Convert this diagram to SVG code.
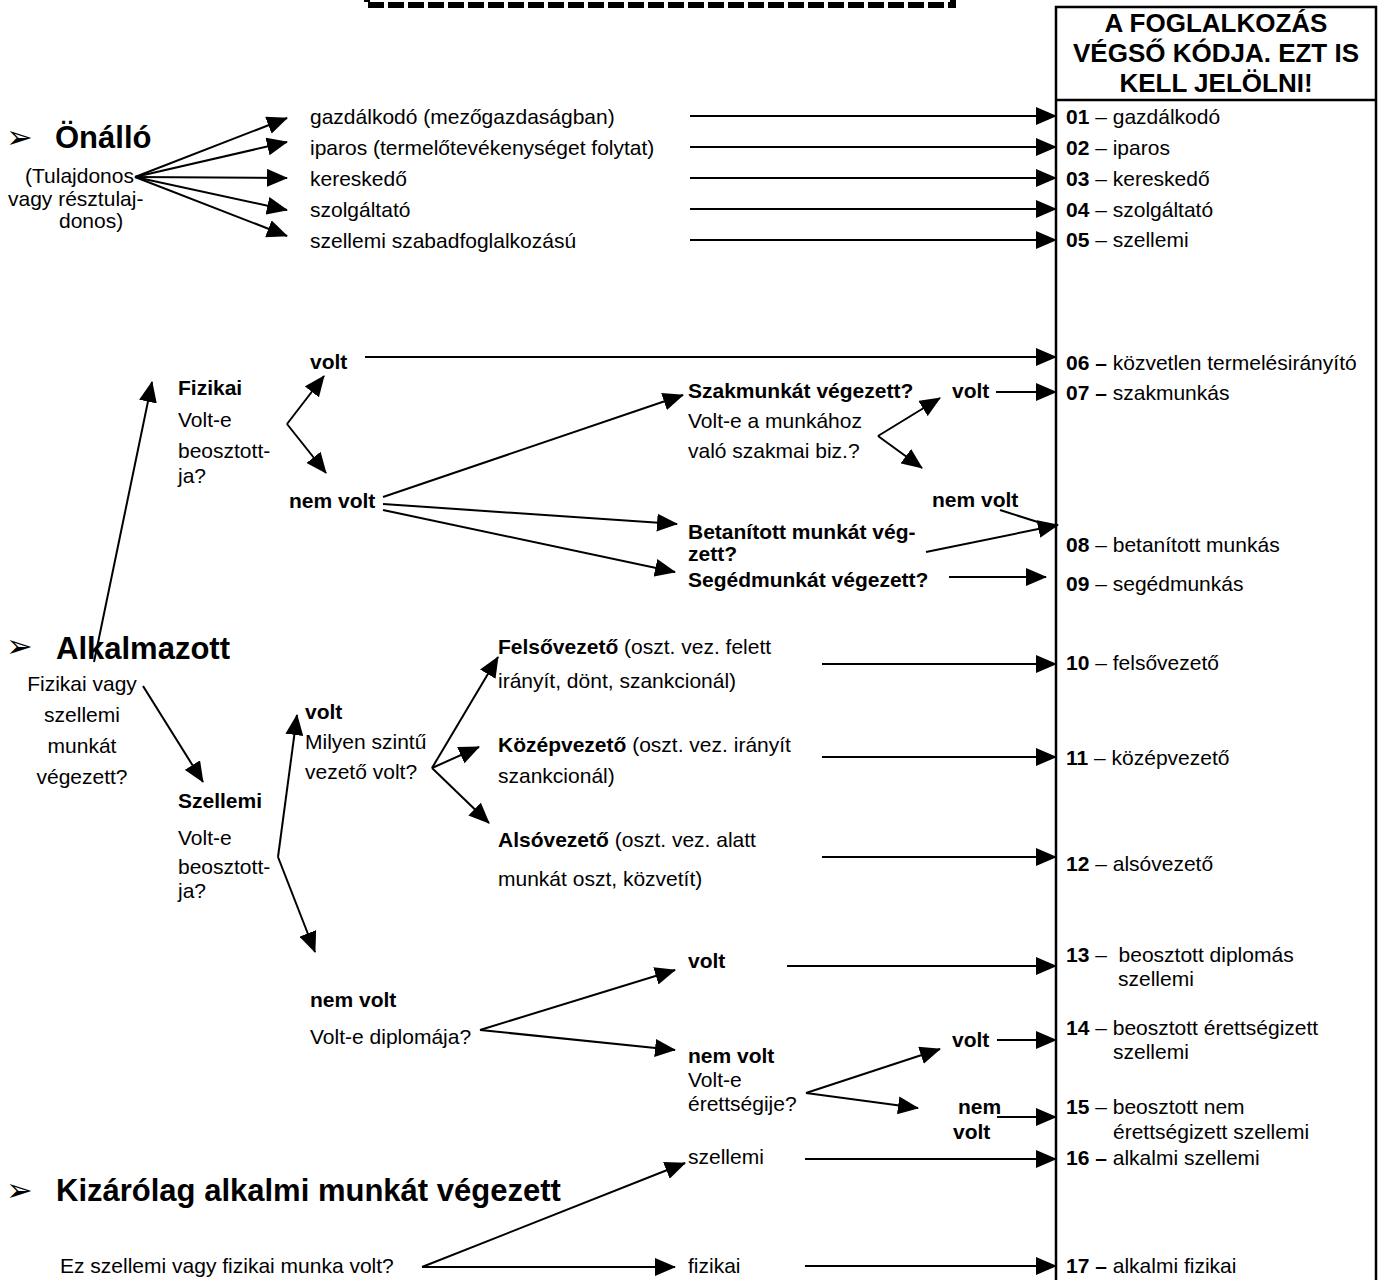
<svg xmlns="http://www.w3.org/2000/svg" width="1384" height="1280" viewBox="0 0 1384 1280">
<style>
text{font-family:"Liberation Sans",Arial,sans-serif;font-size:21px;fill:#000}
.b{font-weight:bold}
.h{font-size:31px;font-weight:bold}
.hd{font-size:26px;font-weight:bold;text-anchor:middle}
.bul{font-family:"DejaVu Sans",sans-serif;font-size:32px}
.c{text-anchor:middle}
.ln{stroke:#000;stroke-width:2;fill:none}
.ar{stroke:#000;stroke-width:2;fill:none;marker-end:url(#ah)}
</style>
<defs>
<marker id="ah" markerUnits="userSpaceOnUse" markerWidth="21" markerHeight="18" refX="20" refY="9" orient="auto">
<path d="M0,0 L21,9 L0,18 Z" fill="#000"/>
</marker>
</defs>
<rect width="1384" height="1280" fill="#fff"/>

<g id="dashed-box">
<rect x="367" y="-40" width="586" height="45" fill="none" stroke="#000" stroke-width="6" stroke-dasharray="16,4"/>
</g>

<g id="code-column">
<rect x="1056" y="7" width="320" height="1300" fill="none" stroke="#000" stroke-width="2.5"/>
<line x1="1056" y1="100" x2="1376" y2="100" stroke="#000" stroke-width="2.5"/>
<text class="hd" x="1216" y="32">A FOGLALKOZÁS</text>
<text class="hd" x="1216" y="62">VÉGSŐ KÓDJA. EZT IS</text>
<text class="hd" x="1216" y="92">KELL JELÖLNI!</text>
</g>

<g id="codes">
<text x="1066" y="124"><tspan class="b">01</tspan> – gazdálkodó</text>
<text x="1066" y="155"><tspan class="b">02</tspan> – iparos</text>
<text x="1066" y="186"><tspan class="b">03</tspan> – kereskedő</text>
<text x="1066" y="217"><tspan class="b">04</tspan> – szolgáltató</text>
<text x="1066" y="247"><tspan class="b">05</tspan> – szellemi</text>
<text x="1066" y="370"><tspan class="b">06 –</tspan> közvetlen termelésirányító</text>
<text x="1066" y="400"><tspan class="b">07 –</tspan> szakmunkás</text>
<text x="1066" y="552"><tspan class="b">08</tspan> – betanított munkás</text>
<text x="1066" y="591"><tspan class="b">09</tspan> – segédmunkás</text>
<text x="1066" y="670"><tspan class="b">10</tspan> – felsővezető</text>
<text x="1066" y="765"><tspan class="b">11</tspan> – középvezető</text>
<text x="1066" y="871"><tspan class="b">12</tspan> – alsóvezető</text>
<text x="1066" y="962"><tspan class="b">13</tspan> – &#160;beosztott diplomás</text>
<text x="1118" y="986">szellemi</text>
<text x="1066" y="1035"><tspan class="b">14</tspan> – beosztott érettségizett</text>
<text x="1113" y="1059">szellemi</text>
<text x="1066" y="1114"><tspan class="b">15</tspan> – beosztott nem</text>
<text x="1113" y="1139">érettségizett szellemi</text>
<text x="1066" y="1165"><tspan class="b">16 –</tspan> alkalmi szellemi</text>
<text x="1066" y="1273"><tspan class="b">17 –</tspan> alkalmi fizikai</text>
</g>

<g id="onallo">
<text class="bul" x="6" y="148">➢</text>
<text class="h" x="55" y="148">Önálló</text>
<text x="25" y="183">(Tulajdonos</text>
<text x="8" y="206">vagy résztulaj-</text>
<text x="59" y="228">donos)</text>
</g>

<g id="onallo-items">
<text x="310" y="124">gazdálkodó (mezőgazdaságban)</text>
<text x="310" y="155">iparos (termelőtevékenységet folytat)</text>
<text x="310" y="186">kereskedő</text>
<text x="310" y="217">szolgáltató</text>
<text x="310" y="248">szellemi szabadfoglalkozású</text>
</g>

<g id="fizikai">
<text class="b" x="178" y="395">Fizikai</text>
<text x="178" y="427">Volt-e</text>
<text x="178" y="458">beosztott-</text>
<text x="178" y="483">ja?</text>
<text class="b" x="310" y="369">volt</text>
<text class="b" x="289" y="508">nem volt</text>
</g>

<g id="szakmunka">
<text class="b" x="688" y="398">Szakmunkát végezett?</text>
<text x="688" y="428">Volt-e a munkához</text>
<text x="688" y="458">való szakmai biz.?</text>
<text class="b" x="952" y="398">volt</text>
<text class="b" x="932" y="507">nem volt</text>
</g>

<g id="betanitott">
<text class="b" x="688" y="539">Betanított munkát vég-</text>
<text class="b" x="688" y="561">zett?</text>
<text class="b" x="688" y="587">Segédmunkát végezett?</text>
</g>

<g id="alkalmazott">
<text class="bul" x="6" y="657">➢</text>
<text class="h" x="56" y="659">Alkalmazott</text>
<text class="c" x="82" y="691">Fizikai vagy</text>
<text class="c" x="82" y="722">szellemi</text>
<text class="c" x="82" y="753">munkát</text>
<text class="c" x="82" y="784">végezett?</text>
</g>

<g id="szellemi">
<text class="b" x="178" y="808">Szellemi</text>
<text x="178" y="845">Volt-e</text>
<text x="178" y="874">beosztott-</text>
<text x="178" y="898">ja?</text>
</g>

<g id="vezeto">
<text class="b" x="305" y="719">volt</text>
<text x="305" y="749">Milyen szintű</text>
<text x="305" y="779">vezető volt?</text>
</g>

<g id="vezeto-szintek">
<text x="498" y="654"><tspan class="b">Felsővezető</tspan> (oszt. vez. felett</text>
<text x="498" y="688">irányít, dönt, szankcionál)</text>
<text x="498" y="752"><tspan class="b">Középvezető</tspan> (oszt. vez. irányít</text>
<text x="498" y="783">szankcionál)</text>
<text x="498" y="847"><tspan class="b">Alsóvezető</tspan> (oszt. vez. alatt</text>
<text x="498" y="886">munkát oszt, közvetít)</text>
</g>

<g id="diploma">
<text class="b" x="310" y="1007">nem volt</text>
<text x="310" y="1044">Volt-e diplomája?</text>
<text class="b" x="688" y="968">volt</text>
</g>

<g id="erettsegi">
<text class="b" x="688" y="1063">nem volt</text>
<text x="688" y="1087">Volt-e</text>
<text x="688" y="1111">érettségije?</text>
<text class="b" x="952" y="1047">volt</text>
<text class="b" x="958" y="1114">nem</text>
<text class="b" x="953" y="1139">volt</text>
</g>

<g id="alkalmi">
<text class="bul" x="6" y="1201">➢</text>
<text class="h" x="56" y="1201">Kizárólag alkalmi munkát végezett</text>
<text x="60" y="1273">Ez szellemi vagy fizikai munka volt?</text>
<text x="688" y="1164">szellemi</text>
<text x="688" y="1273">fizikai</text>
</g>

<g id="connectors">
<line class="ar" x1="135" y1="177" x2="287" y2="118"/>
<line class="ar" x1="135" y1="177" x2="287" y2="142"/>
<line class="ar" x1="135" y1="177" x2="287" y2="178"/>
<line class="ar" x1="135" y1="177" x2="287" y2="210"/>
<line class="ar" x1="135" y1="177" x2="287" y2="236"/>
<line class="ar" x1="690" y1="116" x2="1056" y2="116"/>
<line class="ar" x1="690" y1="147" x2="1056" y2="147"/>
<line class="ar" x1="690" y1="178" x2="1056" y2="178"/>
<line class="ar" x1="690" y1="209" x2="1056" y2="209"/>
<line class="ar" x1="690" y1="240" x2="1056" y2="240"/>

<line class="ar" x1="94" y1="662" x2="152" y2="382"/>
<line class="ar" x1="287" y1="424" x2="324" y2="376"/>
<line class="ar" x1="287" y1="424" x2="326" y2="473"/>
<line class="ar" x1="365" y1="357" x2="1056" y2="357"/>
<line class="ar" x1="383" y1="497" x2="683" y2="395"/>
<line class="ar" x1="383" y1="504" x2="677" y2="524"/>
<line class="ar" x1="383" y1="510" x2="675" y2="572"/>
<line class="ar" x1="878" y1="436" x2="940" y2="398"/>
<line class="ar" x1="878" y1="436" x2="922" y2="468"/>
<line class="ar" x1="996" y1="392" x2="1056" y2="392"/>
<line class="ln" x1="1000" y1="510" x2="1044" y2="524"/>
<line class="ar" x1="926" y1="552" x2="1058" y2="525"/>
<line class="ar" x1="949" y1="577" x2="1046" y2="577"/>

<line class="ar" x1="143" y1="686" x2="203" y2="782"/>
<line class="ar" x1="278" y1="857" x2="297" y2="715"/>
<line class="ar" x1="278" y1="857" x2="315" y2="952"/>
<line class="ar" x1="432" y1="768" x2="498" y2="657"/>
<line class="ar" x1="432" y1="768" x2="479" y2="747"/>
<line class="ar" x1="432" y1="768" x2="489" y2="823"/>
<line class="ar" x1="822" y1="664" x2="1056" y2="664"/>
<line class="ar" x1="822" y1="757" x2="1056" y2="757"/>
<line class="ar" x1="822" y1="857" x2="1056" y2="857"/>

<line class="ar" x1="480" y1="1030" x2="675" y2="970"/>
<line class="ar" x1="480" y1="1030" x2="675" y2="1050"/>
<line class="ar" x1="787" y1="966" x2="1056" y2="966"/>
<line class="ar" x1="806" y1="1093" x2="940" y2="1049"/>
<line class="ar" x1="806" y1="1093" x2="918" y2="1108"/>
<line class="ar" x1="997" y1="1040" x2="1056" y2="1040"/>
<line class="ar" x1="997" y1="1117" x2="1056" y2="1117"/>
<line class="ar" x1="805" y1="1159" x2="1056" y2="1159"/>

<line class="ar" x1="422" y1="1267" x2="685" y2="1163"/>
<line class="ar" x1="422" y1="1267" x2="675" y2="1267"/>
<line class="ar" x1="805" y1="1266" x2="1056" y2="1266"/>
</g>
</svg>
